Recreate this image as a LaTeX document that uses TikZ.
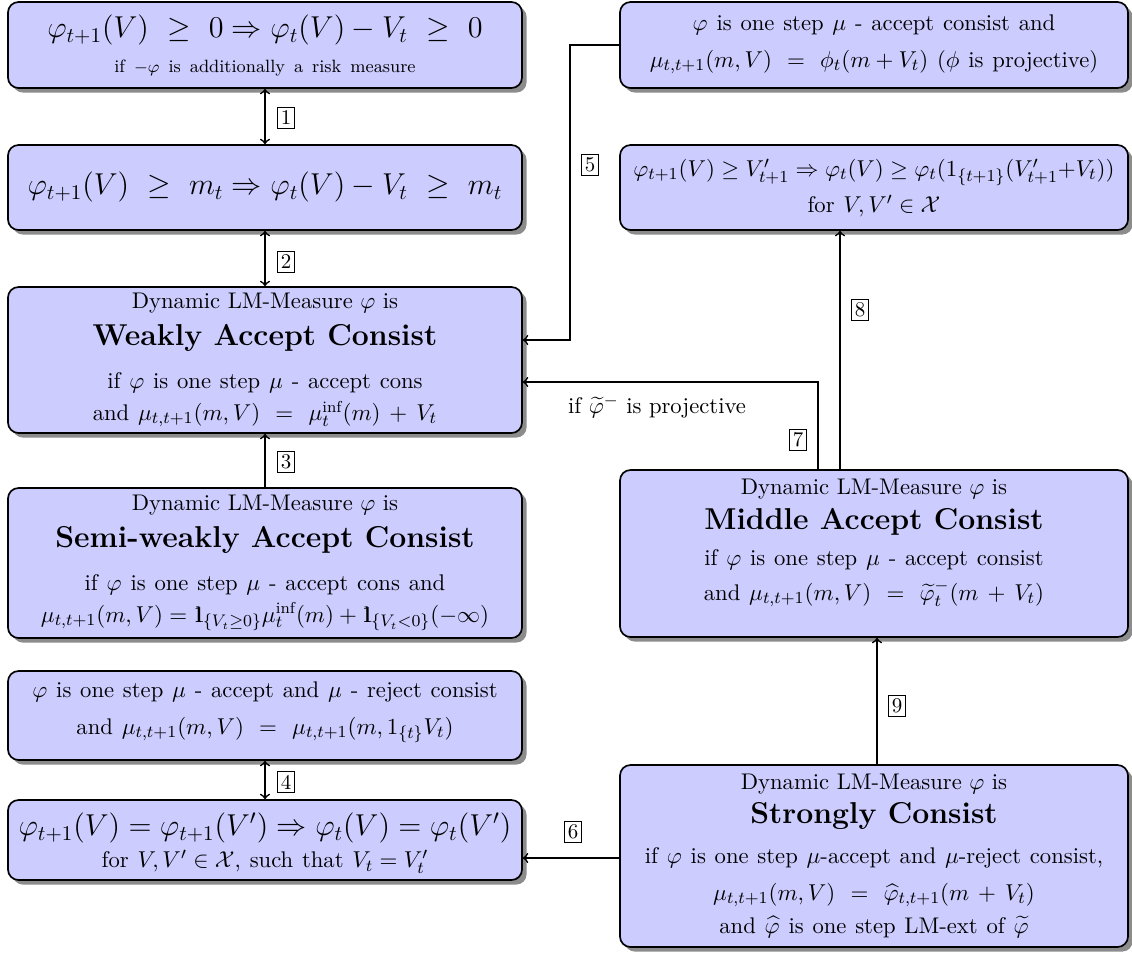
\documentclass[tikz,border=0pt]{standalone}
\usepackage{amsmath,amssymb}
\usepackage{fontspec}
\usetikzlibrary{shadows,fit,calc}
\newcommand{\myone}{\mathord{\mathrm{1}\mkern-7.5mu\mathrm{l}\mkern1mu}}
\newcommand{\bodyfont}{\fontsize{10.8}{13}\selectfont\spaceskip=4.2pt plus 1pt minus 0.5pt\relax}
\newcommand{\headfont}{\fontsize{10.8}{13}\selectfont}
\newcommand{\smallfont}{\fontsize{8.5}{10}\selectfont\spaceskip=4.3pt plus 1pt minus 0.5pt\relax}
\begin{document}
\begin{tikzpicture}[x=0.47703pt,y=-0.47703pt,
  box/.style={draw=black,fill=blue!20,rounded corners=5pt,thick,align=center,
    inner sep=0pt,drop shadow={shadow xshift=2.2pt,shadow yshift=-2.2pt,fill=black!45,opacity=1}},
  txt/.style={inner sep=0.5pt,font=\bodyfont},
  head/.style={inner sep=0.5pt,font=\headfont},
  title/.style={inner sep=0.5pt,font=\Large\bfseries},
  big/.style={inner sep=0.5pt,font=\Large},
  num/.style={draw=black,thin,inner sep=1.6pt,font=\normalsize},
  conn/.style={thick,->},
  dconn/.style={thick,<->},
  >=to]
\useasboundingbox (0,0) rectangle (1132,957);

% left column
\node[box,fit={(8,2) (522,88)}] (A) {};
\node[big] (At1) at (265,30) {$\varphi_{t+1}(V)\ \geq\ 0 \Rightarrow \varphi_t(V) - V_t\ \geq\ 0$};
\node[inner sep=0.5pt,font=\smallfont] (At2) at (265,68) {if $-\varphi$ is additionally a risk measure};

\node[box,fit={(8,145) (522,230)}] (B) {};
\node[big] (Bt1) at (265,187) {$\varphi_{t+1}(V)\ \geq\ m_t \Rightarrow \varphi_t(V) - V_t\ \geq\ m_t$};

\node[box,fit={(8,287) (522,433)}] (C) {};
\node[head] (Ct1) at (265,303) {Dynamic LM-Measure $\varphi$ is};
\node[title] (Ct2) at (265,338) {Weakly Accept Consist};
\node[txt] (Ct3) at (265,383) {if $\varphi$ is one step $\mu$ - accept cons};
\node[txt] (Ct4) at (265,414) {and $\mu_{t,t+1}(m,V)\ =\ \mu_t^{\inf}(m)\,+\,V_t$};

\node[box,fit={(8,488) (522,638)}] (Sw) {};
\node[head] (Swt1) at (265,505) {Dynamic LM-Measure $\varphi$ is};
\node[title] (Swt2) at (265,540) {Semi-weakly Accept Consist};
\node[txt] (Swt3) at (265,585) {if $\varphi$ is one step $\mu$ - accept cons and};
\node[txt] (Swt4) at (265,617) {$\mu_{t,t+1}(m,V) = \myone_{\{V_t\geq 0\}}\mu_t^{\inf}(m) + \myone_{\{V_t<0\}}(-\infty)$};

\node[box,fit={(8,671) (522,760)}] (D) {};
\node[txt] (Dt1) at (265,692) {$\varphi$ is one step $\mu$ - accept and $\mu$ - reject consist};
\node[txt] (Dt2) at (265,730) {and $\mu_{t,t+1}(m,V)\ =\ \mu_{t,t+1}(m,1_{\{t\}}V_t)$};

\node[box,fit={(8,800) (522,880)}] (E) {};
\node[big] (Et1) at (265,828) {$\varphi_{t+1}(V) = \varphi_{t+1}(V') \Rightarrow \varphi_t(V) = \varphi_t(V')$};
\node[txt] (Et2) at (265,862) {for $V,V'\in\mathcal{X}$, such that $V_t = V_t'$};

% right column
\node[box,fit={(620,2) (1128,88)}] (F) {};
\node[txt] (Ft1) at (874,25) {$\varphi$ is one step $\mu$ - accept consist and};
\node[txt] (Ft2) at (874,62) {$\mu_{t,t+1}(m,V)\ =\ \phi_t(m+V_t)$ ($\phi$ is projective)};

\node[box,fit={(620,145) (1128,230)}] (G) {};
\node[txt] (Gt1) at (874,172) {$\varphi_{t+1}(V)\geq V'_{t+1}\Rightarrow\varphi_t(V)\geq\varphi_t(1_{\{t+1\}}(V'_{t+1}{+}V_t))$};
\node[txt] (Gt2) at (874,206) {for $V,V'\in\mathcal{X}$};

\node[box,fit={(620,470) (1128,637)}] (H) {};
\node[head] (Ht1) at (874,489) {Dynamic LM-Measure $\varphi$ is};
\node[title] (Ht2) at (874,522) {Middle Accept Consist};
\node[txt] (Ht3) at (874,560) {if $\varphi$ is one step $\mu$ - accept consist};
\node[txt] (Ht4) at (874,594) {and $\mu_{t,t+1}(m,V)\ =\ \widetilde{\varphi}_t^-(m\,+\,V_t)$};

\node[box,fit={(620,765) (1128,947)}] (S) {};
\node[head] (St1) at (874,784) {Dynamic LM-Measure $\varphi$ is};
\node[title] (St2) at (874,816) {Strongly Consist};
\node[txt] (St3) at (874,858) {if $\varphi$ is one step $\mu$-accept and $\mu$-reject consist,};
\node[txt] (St4) at (874,895) {$\mu_{t,t+1}(m,V)\ =\ \widehat{\varphi}_{t,t+1}(m\,+\,V_t)$};
\node[txt] (St5) at (874,927) {and $\widehat{\varphi}$ is one step LM-ext of $\widetilde{\varphi}$};

% connectors
\draw[dconn] (A.south) -- (B.north);
\node[num] (n1) at (286,118) {1};
\draw[dconn] (B.south) -- (C.north);
\node[num] (n2) at (286,262) {2};
\draw[conn] (Sw.north) -- (C.south);
\node[num] (n3) at (286,462) {3};
\draw[dconn] (D.south) -- (E.north);
\node[num] (n4) at (286,782) {4};

\coordinate (c5) at (570,340);
\draw[conn] (F.west) -| (c5) -- (c5 -| C.east);
\node[num] (n5) at (590,165) {5};

\coordinate (c7) at (818,382);
\draw[conn] (c7 |- H.north) -- (c7) -- (c7 -| C.east);
\node[num] (n7) at (798,440) {7};
\node[head] (l7) at (657,407) {if $\widetilde{\varphi}^-$ is projective};

\coordinate (c8) at (840,300);
\draw[conn] (c8 |- H.north) -- (c8 |- G.south);
\node[num] (n8) at (860,310) {8};

\coordinate (c9) at (877,700);
\draw[conn] (c9 |- S.north) -- (c9 |- H.south);
\node[num] (n9) at (897,706) {9};

\coordinate (c6) at (570,858);
\draw[conn] (c6 -| S.west) -- (c6 -| E.east);
\node[num] (n6) at (573,832) {6};
\end{tikzpicture}
\end{document}
